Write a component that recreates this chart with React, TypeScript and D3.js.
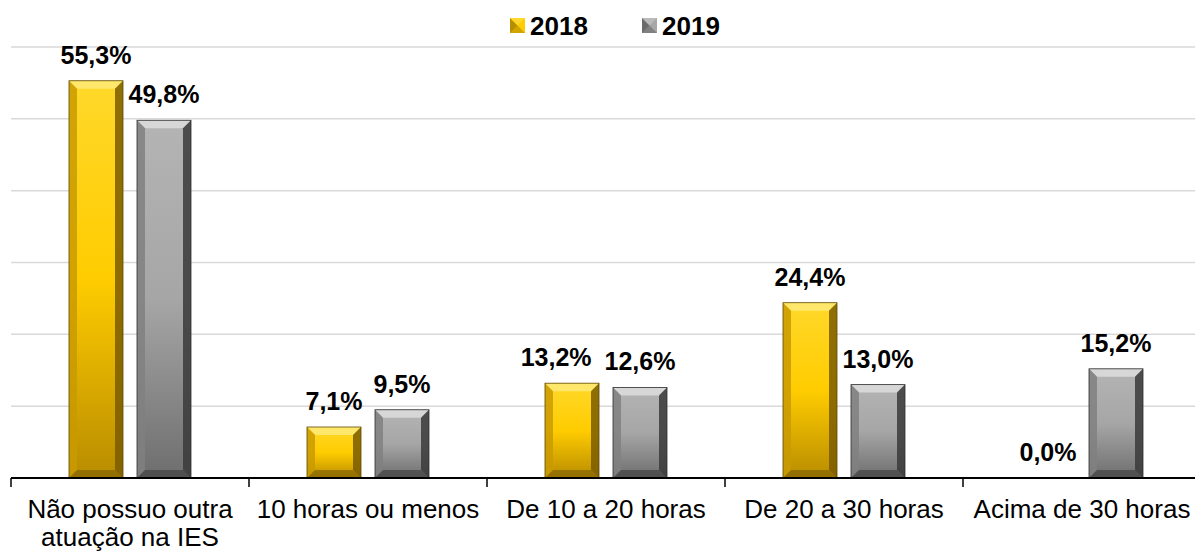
import React from "react";
import * as d3 from "d3";

const categories = ["Não possuo outra\natuação na IES", "10 horas ou menos", "De 10 a 20 horas", "De 20 a 30 horas", "Acima de 30 horas"];
const series = ["2018", "2019"];
const values2018 = [55.3, 7.1, 13.2, 24.4, 0.0];
const values2019 = [49.8, 9.5, 12.6, 13.0, 15.2];
const gridTicks = [10, 20, 30, 40, 50, 60];

const W = 1195, H = 551;
const M = { left: 11, right: -6, top: 47, bottom: 73 };

const palettes = [
  { main: "#FFCC00", top: "#FFD82A", light: "#FFE870", dark: "#7A5C00", mid: "#C99A00", bottom: "#B88C00", edge: "#5e4700" },
  { main: "#A6A6A6", top: "#B4B4B4", light: "#D9D9D9", dark: "#3A3A3A", mid: "#808080", bottom: "#6E6E6E", edge: "#2e2e2e" },
];

function Bar({ x, y, w, h, p, id }: any) {
  if (h <= 0) return null;
  const b = Math.min(8, h / 2);
  return (
    <g>
      <rect x={x} y={y} width={w} height={h} fill={`url(#g${id})`} />
      <polygon points={`${x},${y} ${x + w},${y} ${x + w - b},${y + b} ${x + b},${y + b}`} fill={p.light} opacity={0.95} />
      <polygon points={`${x},${y} ${x + b},${y + b} ${x + b},${y + h - b} ${x},${y + h}`} fill={p.mid} opacity={0.85} />
      <polygon points={`${x + w},${y} ${x + w - b},${y + b} ${x + w - b},${y + h - b} ${x + w},${y + h}`} fill={p.dark} opacity={0.85} />
      <polygon points={`${x},${y + h} ${x + b},${y + h - b} ${x + w - b},${y + h - b} ${x + w},${y + h}`} fill={p.dark} opacity={0.6} />
      <rect x={x} y={y} width={w} height={h} fill="none" stroke={p.edge} strokeWidth={0.8} />
    </g>
  );
}

export default function App() {
  const x0 = d3.scaleBand<string>().domain(categories).range([M.left, W - M.right]).paddingInner(0).paddingOuter(0);
  const y = d3.scaleLinear().domain([0, 60]).range([H - M.bottom, M.top]);
  const bw = 54, gap = 14;
  const data = [values2018, values2019];
  const font = "Arial, 'Liberation Sans', sans-serif";
  const fs = 25;
  const y0 = y(0);
  const fmt = (v: number) => v.toFixed(1).replace(".", ",") + "%";
  const labelW = (s: string) => s.length * 0.567 * fs;
  return (
    <svg width={W} height={H} style={{ position: "absolute", left: 0, top: 0, background: "#fff" }}>
      <defs>
        {palettes.map((p, i) => (
          <linearGradient key={i} id={`g${i}`} x1="0" x2="0" y1="0" y2="1">
            <stop offset="0" stopColor={p.top} />
            <stop offset="0.5" stopColor={p.main} />
            <stop offset="1" stopColor={p.bottom} />
          </linearGradient>
        ))}
      </defs>
      {gridTicks.map((t) => (
        <line key={t} x1={M.left} x2={W} y1={y(t)} y2={y(t)} stroke="#d9d9d9" strokeWidth={1.5} />
      ))}
      {categories.map((c, ci) => {
        const cx = x0(c)! + x0.bandwidth() / 2;
        // label collision: shift left label leftwards if labels would overlap (same baseline zone)
        const tops = data.map((vals) => y(vals[ci]));
        const wL = labelW(fmt(data[0][ci]));
        const wR = labelW(fmt(data[1][ci]));
        const centerDist = bw + gap;
        const overlap = (wL + wR) / 2 - centerDist;
        const shift = Math.abs(tops[0] - tops[1]) < 22 && overlap > 0 ? overlap + 13 : 0;
        return data.map((vals, si) => {
          const bx = si === 0 ? cx - gap / 2 - bw : cx + gap / 2;
          const v = vals[ci];
          const top = y(v);
          const lx = bx + bw / 2 - (si === 0 ? shift : 0);
          return (
            <g key={`${ci}-${si}`}>
              <Bar x={bx} y={top} w={bw} h={y0 - top} p={palettes[si]} id={si} />
              <text x={lx} y={top - 17} textAnchor="middle" fontFamily={font} fontWeight="bold" fontSize={fs} fill="#000">
                {fmt(v)}
              </text>
            </g>
          );
        });
      })}
      <line x1={M.left} x2={W} y1={y0} y2={y0} stroke="#000" strokeWidth={2} />
      {categories.map((c, i) => (
        <line key={"t" + i} x1={x0(c)!} x2={x0(c)!} y1={y0} y2={y0 + 9} stroke="#000" strokeWidth={1.5} />
      ))}
      {categories.map((c) => {
        const cx = x0(c)! + x0.bandwidth() / 2;
        return c.split("\n").map((ln, li) => (
          <text key={c + li} x={cx} y={518 + li * 28} textAnchor="middle" fontFamily={font} fontSize={26} fill="#000">
            {ln}
          </text>
        ));
      })}
      {series.map((s, i) => {
        const lx = [510, 642][i];
        const p = palettes[i];
        return (
          <g key={s}>
            <rect x={lx} y={18} width={15} height={15} fill={p.main} />
            <polygon points={`${lx},${18} ${lx + 7.5},${25.5} ${lx},${33}`} fill={p.dark} opacity={0.55} />
            <polygon points={`${lx},${33} ${lx + 7.5},${25.5} ${lx + 15},${33}`} fill={p.dark} opacity={0.35} />
            <polygon points={`${lx},${18} ${lx + 7.5},${25.5} ${lx + 15},${18}`} fill={p.light} opacity={0.4} />
            <text x={lx + 20} y={35} fontFamily={font} fontWeight="bold" fontSize={26} fill="#000">{s}</text>
          </g>
        );
      })}
    </svg>
  );
}
